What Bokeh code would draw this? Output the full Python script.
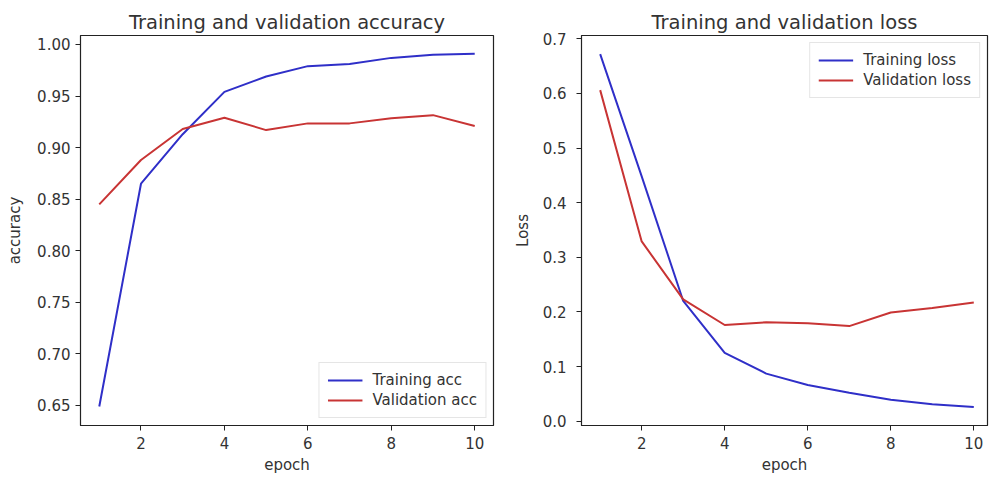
from bokeh.plotting import figure
from bokeh.layouts import row
from bokeh.models import FixedTicker, PrintfTickFormatter, Range1d, Legend, LegendItem
from bokeh.embed import file_html
from bokeh.resources import INLINE

epochs = [1, 2, 3, 4, 5, 6, 7, 8, 9, 10]
train_acc = [0.649, 0.865, 0.913, 0.954, 0.969, 0.979, 0.981, 0.987, 0.990, 0.991]
val_acc = [0.845, 0.888, 0.918, 0.929, 0.917, 0.9235, 0.9235, 0.9285, 0.9315, 0.921]
train_loss = [0.672, 0.448, 0.220, 0.125, 0.087, 0.066, 0.052, 0.039, 0.031, 0.026]
val_loss = [0.606, 0.329, 0.223, 0.176, 0.181, 0.179, 0.174, 0.199, 0.207, 0.217]
x_ticks = [2, 4, 6, 8, 10]
acc_ticks = [0.65, 0.70, 0.75, 0.80, 0.85, 0.90, 0.95, 1.00]
loss_ticks = [0.0, 0.1, 0.2, 0.3, 0.4, 0.5, 0.6, 0.7]

BLUE = "#2f2fc8"
RED = "#c83434"
FONT = "DejaVu Sans"
TXT = "#333333"


def make_fig(width, border_left, border_right, title, ylabel, xr, yr, yticks, yfmt):
    p = figure(width=width, height=481, output_backend="svg", toolbar_location=None,
               x_range=Range1d(*xr), y_range=Range1d(*yr),
               min_border_left=border_left, min_border_right=border_right,
               min_border_top=35, min_border_bottom=56)
    p.title.text = title
    p.title.align = "center"
    p.title.text_font = FONT
    p.title.text_font_size = "19.5px"
    p.title.text_font_style = "normal"
    p.title.text_color = TXT
    p.title.standoff = 4
    p.xgrid.visible = False
    p.ygrid.visible = False
    p.outline_line_color = "#222222"
    p.outline_line_width = 1.2
    for ax in (p.xaxis[0], p.yaxis[0]):
        ax.major_label_text_font = FONT
        ax.major_label_text_font_size = "15px"
        ax.major_label_text_color = TXT
        ax.axis_label_text_font = FONT
        ax.axis_label_text_font_size = "15px"
        ax.axis_label_text_font_style = "normal"
        ax.axis_label_text_color = TXT
        ax.minor_tick_line_color = None
        ax.major_tick_out = 5
        ax.major_tick_in = 0
        ax.axis_line_color = "#222222"
        ax.major_tick_line_color = "#222222"
    p.xaxis.ticker = FixedTicker(ticks=x_ticks)
    p.xaxis.axis_label = "epoch"
    p.xaxis.major_label_standoff = 6
    p.xaxis.axis_label_standoff = 4
    p.yaxis.ticker = FixedTicker(ticks=yticks)
    p.yaxis.formatter = PrintfTickFormatter(format=yfmt)
    p.yaxis.axis_label = ylabel
    p.yaxis.major_label_standoff = 5
    p.yaxis.axis_label_standoff = 10
    return p


p1 = make_fig(510, 80, 17, "Training and validation accuracy", "accuracy",
              (0.55, 10.45), (0.6306, 1.0087), acc_ticks, "%.2f")
r1 = p1.line(epochs, train_acc, line_color=BLUE, line_width=2)
r2 = p1.line(epochs, val_acc, line_color=RED, line_width=2)
leg1 = Legend(items=[LegendItem(label="Training acc", renderers=[r1]),
                     LegendItem(label="Validation acc", renderers=[r2])],
              location="bottom_right")
p1.add_layout(leg1, "center")

p2 = make_fig(479, 69, 2, "Training and validation loss", "Loss",
              (0.55, 10.33), (-0.008, 0.706), loss_ticks, "%.1f")
p2.yaxis.major_label_standoff = 10
p2.yaxis.axis_label_standoff = 8
r3 = p2.line(epochs, train_loss, line_color=BLUE, line_width=2)
r4 = p2.line(epochs, val_loss, line_color=RED, line_width=2)
leg2 = Legend(items=[LegendItem(label="Training loss", renderers=[r3]),
                     LegendItem(label="Validation loss", renderers=[r4])],
              location="top_right")
p2.add_layout(leg2, "center")

for lg in (leg1, leg2):
    lg.label_text_font = FONT
    lg.label_text_font_size = "15px"
    lg.label_text_color = TXT
    lg.glyph_width = 35
    lg.glyph_height = 18
    lg.label_standoff = 10
    lg.spacing = 2
    lg.padding = 8
    lg.margin = 7
    lg.border_line_color = "#cccccc"
    lg.border_line_width = 1
    lg.background_fill_alpha = 0.9

layout = row(p1, p2)
open("out.html", "w").write(file_html(layout, INLINE))
